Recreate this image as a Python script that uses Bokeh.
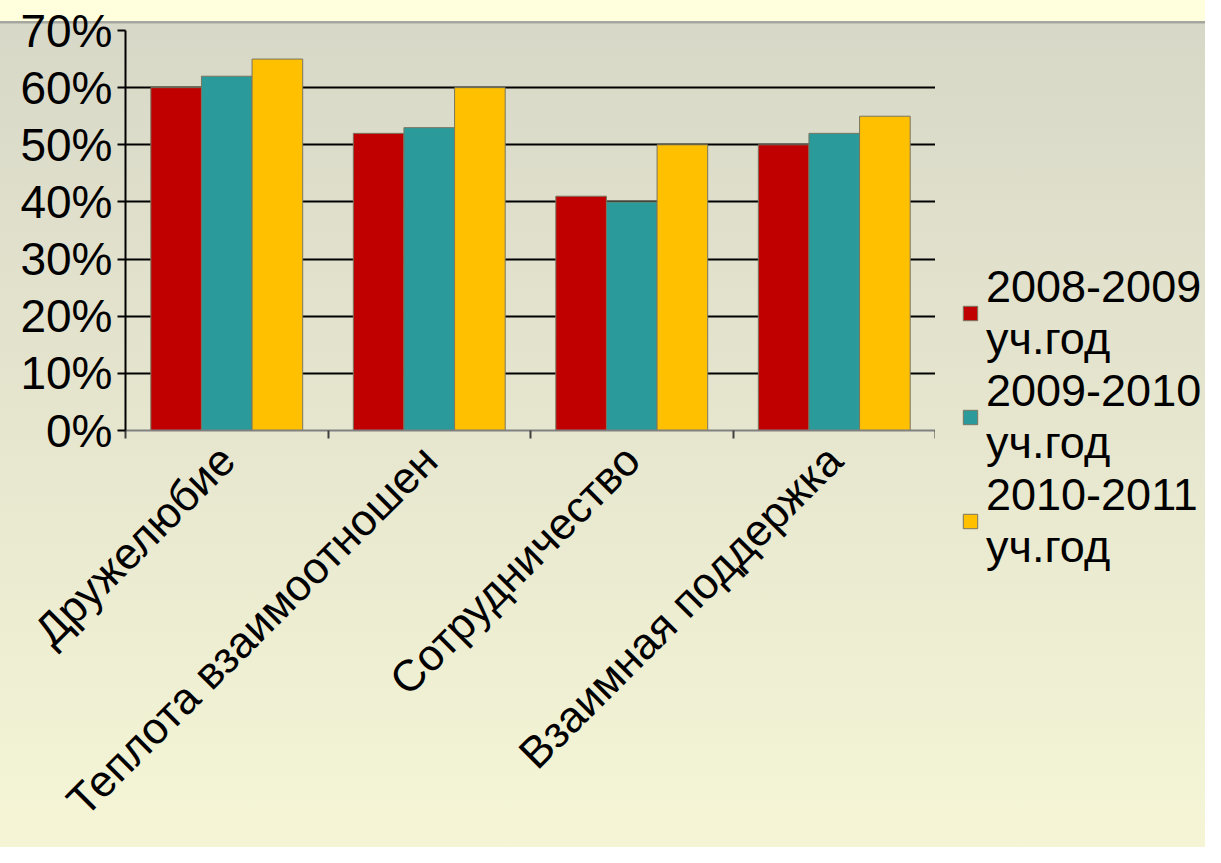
import math
from bokeh.plotting import figure
from bokeh.layouts import row
from bokeh.models import (ColumnDataSource, FactorRange, Range1d, LinearAxis, CategoricalAxis,
                          FixedTicker, Legend, LegendItem, PrintfTickFormatter)
from bokeh.transform import dodge
from bokeh.embed import file_html
from bokeh.resources import INLINE

# ---- data ----
categories = ["Дружелюбие", "Теплота взаимоотношен", "Сотрудничество", "Взаимная поддержка"]
series_labels = ["2008-2009\nуч.год", "2009-2010\nуч.год", "2010-2011\nуч.год"]
y2008 = [60, 52, 41, 50]
y2009 = [62, 53, 40, 52]
y2010 = [65, 60, 50, 55]
y_ticks = [0, 10, 20, 30, 40, 50, 60, 70]

colors = ["#C00000", "#2A9A9A", "#FFC000"]
FONT = "Liberation Sans"
OUTLINE = "#7A7660"
BG = ("linear-gradient(to bottom, #FFFFDD 0px, #FFFFDD 21px, #A6A6A0 21px, "
      "#A6A6A0 23px, #D8D8C8 24px, #F5F5D6 100%)")

src = ColumnDataSource(dict(cat=categories, y2008=y2008, y2009=y2009, y2010=y2010))
keys = ["y2008", "y2009", "y2010"]

p = figure(width=935, height=847, output_backend="svg", toolbar_location=None,
           x_range=FactorRange(*categories), y_range=Range1d(0, 70),
           x_axis_location=None, tools="",
           min_border_left=125, min_border_right=0, min_border_top=30, min_border_bottom=417)
p.border_fill_alpha = 0
p.background_fill_alpha = 0
p.outline_line_color = None

# grid
p.xgrid.grid_line_color = None
p.ygrid.ticker = FixedTicker(ticks=y_ticks)
p.ygrid.grid_line_color = "black"
p.ygrid.grid_line_width = 2

# bars
for off, key, col in zip([-0.25, 0.0, 0.25], keys, colors):
    p.vbar(x=dodge("cat", off, range=p.x_range), top=key, width=0.25, source=src,
           fill_color=col, line_color=OUTLINE, line_width=1)

# y axis
ya = p.yaxis[0]
ya.ticker = FixedTicker(ticks=y_ticks)
ya.formatter = PrintfTickFormatter(format="%d%%")
ya.axis_line_color = "black"
ya.axis_line_width = 2
ya.major_tick_line_color = "black"
ya.major_tick_line_width = 2
ya.major_tick_out = 8
ya.major_tick_in = 0
ya.minor_tick_line_color = None
ya.major_label_text_font = FONT
ya.major_label_text_font_size = "46px"
ya.major_label_text_color = "black"
ya.major_label_standoff = 5

# x axis: separator ticks at category boundaries (synthetic coords 0..4) + category labels
sep_axis = LinearAxis(ticker=FixedTicker(ticks=[0, 1, 2, 3, 4]),
                      major_label_overrides={0: "", 1: "", 2: "", 3: "", 4: ""},
                      axis_line_color="#808080", axis_line_width=2,
                      major_tick_line_color="#404040", major_tick_line_width=2,
                      major_tick_out=8, major_tick_in=0, minor_tick_line_color=None,
                      major_label_standoff=0, major_label_text_font_size="1px")
p.add_layout(sep_axis, "below")

cat_axis = CategoricalAxis(axis_line_color=None, major_tick_line_color=None,
                           minor_tick_line_color=None,
                           major_label_orientation=math.pi / 4,
                           major_label_text_font=FONT, major_label_text_font_size="44px",
                           major_label_text_color="black", major_label_standoff=8)
p.add_layout(cat_axis, "below")

# legend panel (separate figure to the right); its renderers reuse the data but lie
# outside this panel's ranges, so only their legend swatches show
leg = figure(width=270, height=847, output_backend="svg", toolbar_location=None, tools="",
             x_range=Range1d(0, 1), y_range=Range1d(0, 1),
             x_axis_location=None, y_axis_location=None, min_border=0)
leg.border_fill_alpha = 0
leg.background_fill_alpha = 0
leg.outline_line_color = None
leg.grid.visible = False
leg.styles = {"transform": "translateY(205px)"}
leg_renderers = [leg.vbar(x=key, top=key, bottom=key, width=0.1, source=src,
                          fill_color=col, line_color=OUTLINE)
                 for key, col in zip(keys, colors)]

legend = Legend(items=[LegendItem(label=lab, renderers=[r])
                       for lab, r in zip(series_labels, leg_renderers)],
                location="top_left", orientation="vertical",
                glyph_width=18, glyph_height=18, label_standoff=7, spacing=0,
                padding=0, margin=26, border_line_alpha=0, background_fill_alpha=0,
                label_text_font=FONT, label_text_font_size="45px", label_text_color="black",
                label_text_line_height=1.26)
leg.add_layout(legend, "center")

layout = row(p, leg, spacing=0)
layout.styles = {"background": BG, "overflow": "hidden"}
open("out.html", "w").write(file_html(layout, INLINE))
